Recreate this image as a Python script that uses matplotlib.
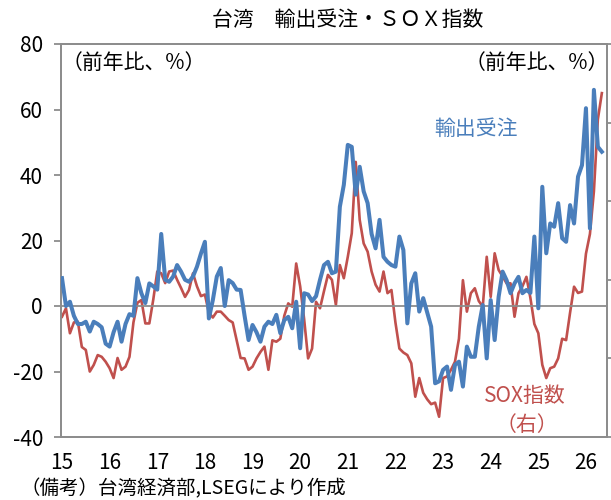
import matplotlib

matplotlib.use("Agg")
import matplotlib.pyplot as plt

plt.rcParams["font.family"] = ["Noto Sans CJK JP", "DejaVu Sans"]
plt.rcParams["axes.unicode_minus"] = False

# 2015-01 .. 2026-05, monthly, YoY %
year_labels = ["15", "16", "17", "18", "19", "20", "21", "22", "23", "24", "25", "26"]

# 輸出受注 (left axis)
export_orders = [
    8.5, 0, 1.3, -3, -5.5, -5.5, -4.8, -7.8, -4.8, -5.5, -6.5, -11.5,
    -12.4, -8, -4.8, -10.9, -5.5, -2.5, -3, 8.5, 3.9, 0.9, 6.9, 6,
    5, 22, 8, 7.4, 9, 12.5, 10.5, 8, 7.4, 9, 12, 16,
    19.6, -3.8, 1.8, 9, 11.6, 0, 7.9, 7, 5, 4.9, -3, -10.4,
    -5.8, -8, -10.9, -6.3, -4.8, -5.5, -2.7, -8.3, -4.3, -3.3, -6.8, 1.3,
    -12.9, 3.9, 3.5, 1.5, 3, 8, 12.5, 13.5, 10, 10.5, 30.3, 37,
    49.2, 48.6, 34, 42.5, 35, 31.4, 22, 17.6, 26.3, 15, 13.5, 12.5,
    12, 21.2, 17.1, -5.3, 6.9, 10, -1.7, 2.4, -2, -6.3, -23.6, -23,
    -19.5, -18.5, -25.6, -18, -17, -24.6, -12.4, -15.5, -15.5, -6.3, 0.3, -16,
    1.8, -10.4, 2.8, 10.5, 7.9, 3.9, 6.9, 8.9, 3.9, 4.9, 4, 21.2,
    -0.7, 36.4, 16.1, 25.2, 24.2, 31.4, 20.7, 19.6, 30.8, 25.2, 39.5, 43,
    60.4, 23.7, 66, 48.6, 47.1,
]

# SOX指数 (right axis)
sox = [
    21.2, 25.5, 12.8, 18.3, 18.7, 5.8, 4.3, -6.7, -3.3, 1.7, 0.8, -1.7,
    -5, -10, 0.2, -5.8, -4.2, 0.8, 18.3, 28.3, 29.7, 17.8, 17.8, 30,
    44.2, 43.3, 38.3, 44.2, 44.7, 40, 35.8, 31.3, 34.8, 43.3, 36.7, 31.7,
    32.5, 23.3, 20.8, 23.8, 23.8, 21.7, 19.5, 18.3, 9.3, 0.2, 0, -5.8,
    -4.2, 0, 3.3, 6, -5.8, 9.2, 8.5, 10, 21.7, 28, 26.3, 48.3,
    36.7, 20, 0, 5, 28.8, 25.5, 34.2, 42.5, 40, 27.2, 47.5, 40.8,
    51.7, 63.7, 100, 70.5, 58.5, 54.3, 44.2, 37.5, 34, 44.2, 33.2, 34.8,
    18.3, 5, 3, 1.7, -2.5, -19.5, -10, -17.5, -20.8, -23.3, -22.5, -29.7,
    -10, -9.2, -5.8, -1.7, 10, 39.8, 23.8, 33.2, 35.7, 29.2, 26.3, 51.7,
    31.3, 53.5, 45, 41.7, 38.2, 38.2, 21.2, 33.2, 36.7, 41.5, 30.8, 17.5,
    12.8, -3.3, -10, -5, -4.2, 0, 10, 9.3, 23.3, 36.5, 33.3, 34,
    53.3, 63.3, 85, 121.7, 135,
]

left_ticks = [-40, -20, 0, 20, 40, 60, 80]
right_ticks = [-40, 0, 40, 80, 120, 160]

blue = "#4a7ebb"
red = "#c0504d"
gray = "#8c8c8c"

fig = plt.figure(figsize=(6.11, 5.0), dpi=100)
ax = fig.add_axes([61 / 611, 63 / 500, 546 / 611, 393 / 500])
ax2 = ax.twinx()

months = list(range(len(export_orders)))
ax.axhline(0, color=gray, lw=1.3, zorder=1)
ax.plot(months, export_orders, color=blue, lw=2.9, zorder=3)
ax2.plot(list(range(len(sox))), sox, color=red, lw=1.9, zorder=2)
ax.set_zorder(ax2.get_zorder() + 1)
ax.patch.set_visible(False)

ax.set_xlim(-0.25, 137.3)
ax.set_ylim(-40, 80)
ax.set_yticks(left_ticks)
ax.set_yticklabels([str(t) for t in left_ticks])
# right-axis labels fall outside the picture in the original, so only ticks
ax2.set_ylim(-40, 160)
ax2.set_yticks(right_ticks)
ax2.set_yticklabels([])

ax.set_xticks([12 * k for k in range(len(year_labels))])
ax.set_xticklabels(year_labels)
ax.tick_params(axis="x", length=0, pad=11, labelsize=15)
ax.tick_params(axis="y", direction="out", length=5, width=1.3, color=gray,
               pad=8, labelsize=15)
ax2.tick_params(axis="y", direction="out", length=5, width=1.3, color=gray)

for a in (ax, ax2):
    for s in a.spines.values():
        s.set_color(gray)
        s.set_linewidth(1.3)

fig.text(348 / 611, 1 - 20 / 500, "台湾　輸出受注・ＳＯＸ指数",
         ha="center", va="center", fontsize=15)
fig.text(62 / 611, 1 - 63 / 500, "（前年比、%）", ha="left", va="center", fontsize=15)
fig.text(609 / 611, 1 - 63 / 500, "（前年比、%）", ha="right", va="center", fontsize=15)
fig.text(476 / 611, 1 - 129 / 500, "輸出受注", ha="center", va="center",
         fontsize=15, color=blue)
fig.text(525 / 611, 1 - 396 / 500, "SOX指数", ha="center", va="center",
         fontsize=15, color=red)
fig.text(527 / 611, 1 - 425 / 500, "（右）", ha="center", va="center",
         fontsize=15, color=red)
fig.text(20 / 611, 1 - 489 / 500, "（備考）台湾経済部,LSEGにより作成",
         ha="left", va="center", fontsize=14)

fig.savefig("out.png", dpi=100)
plt.close(fig)
